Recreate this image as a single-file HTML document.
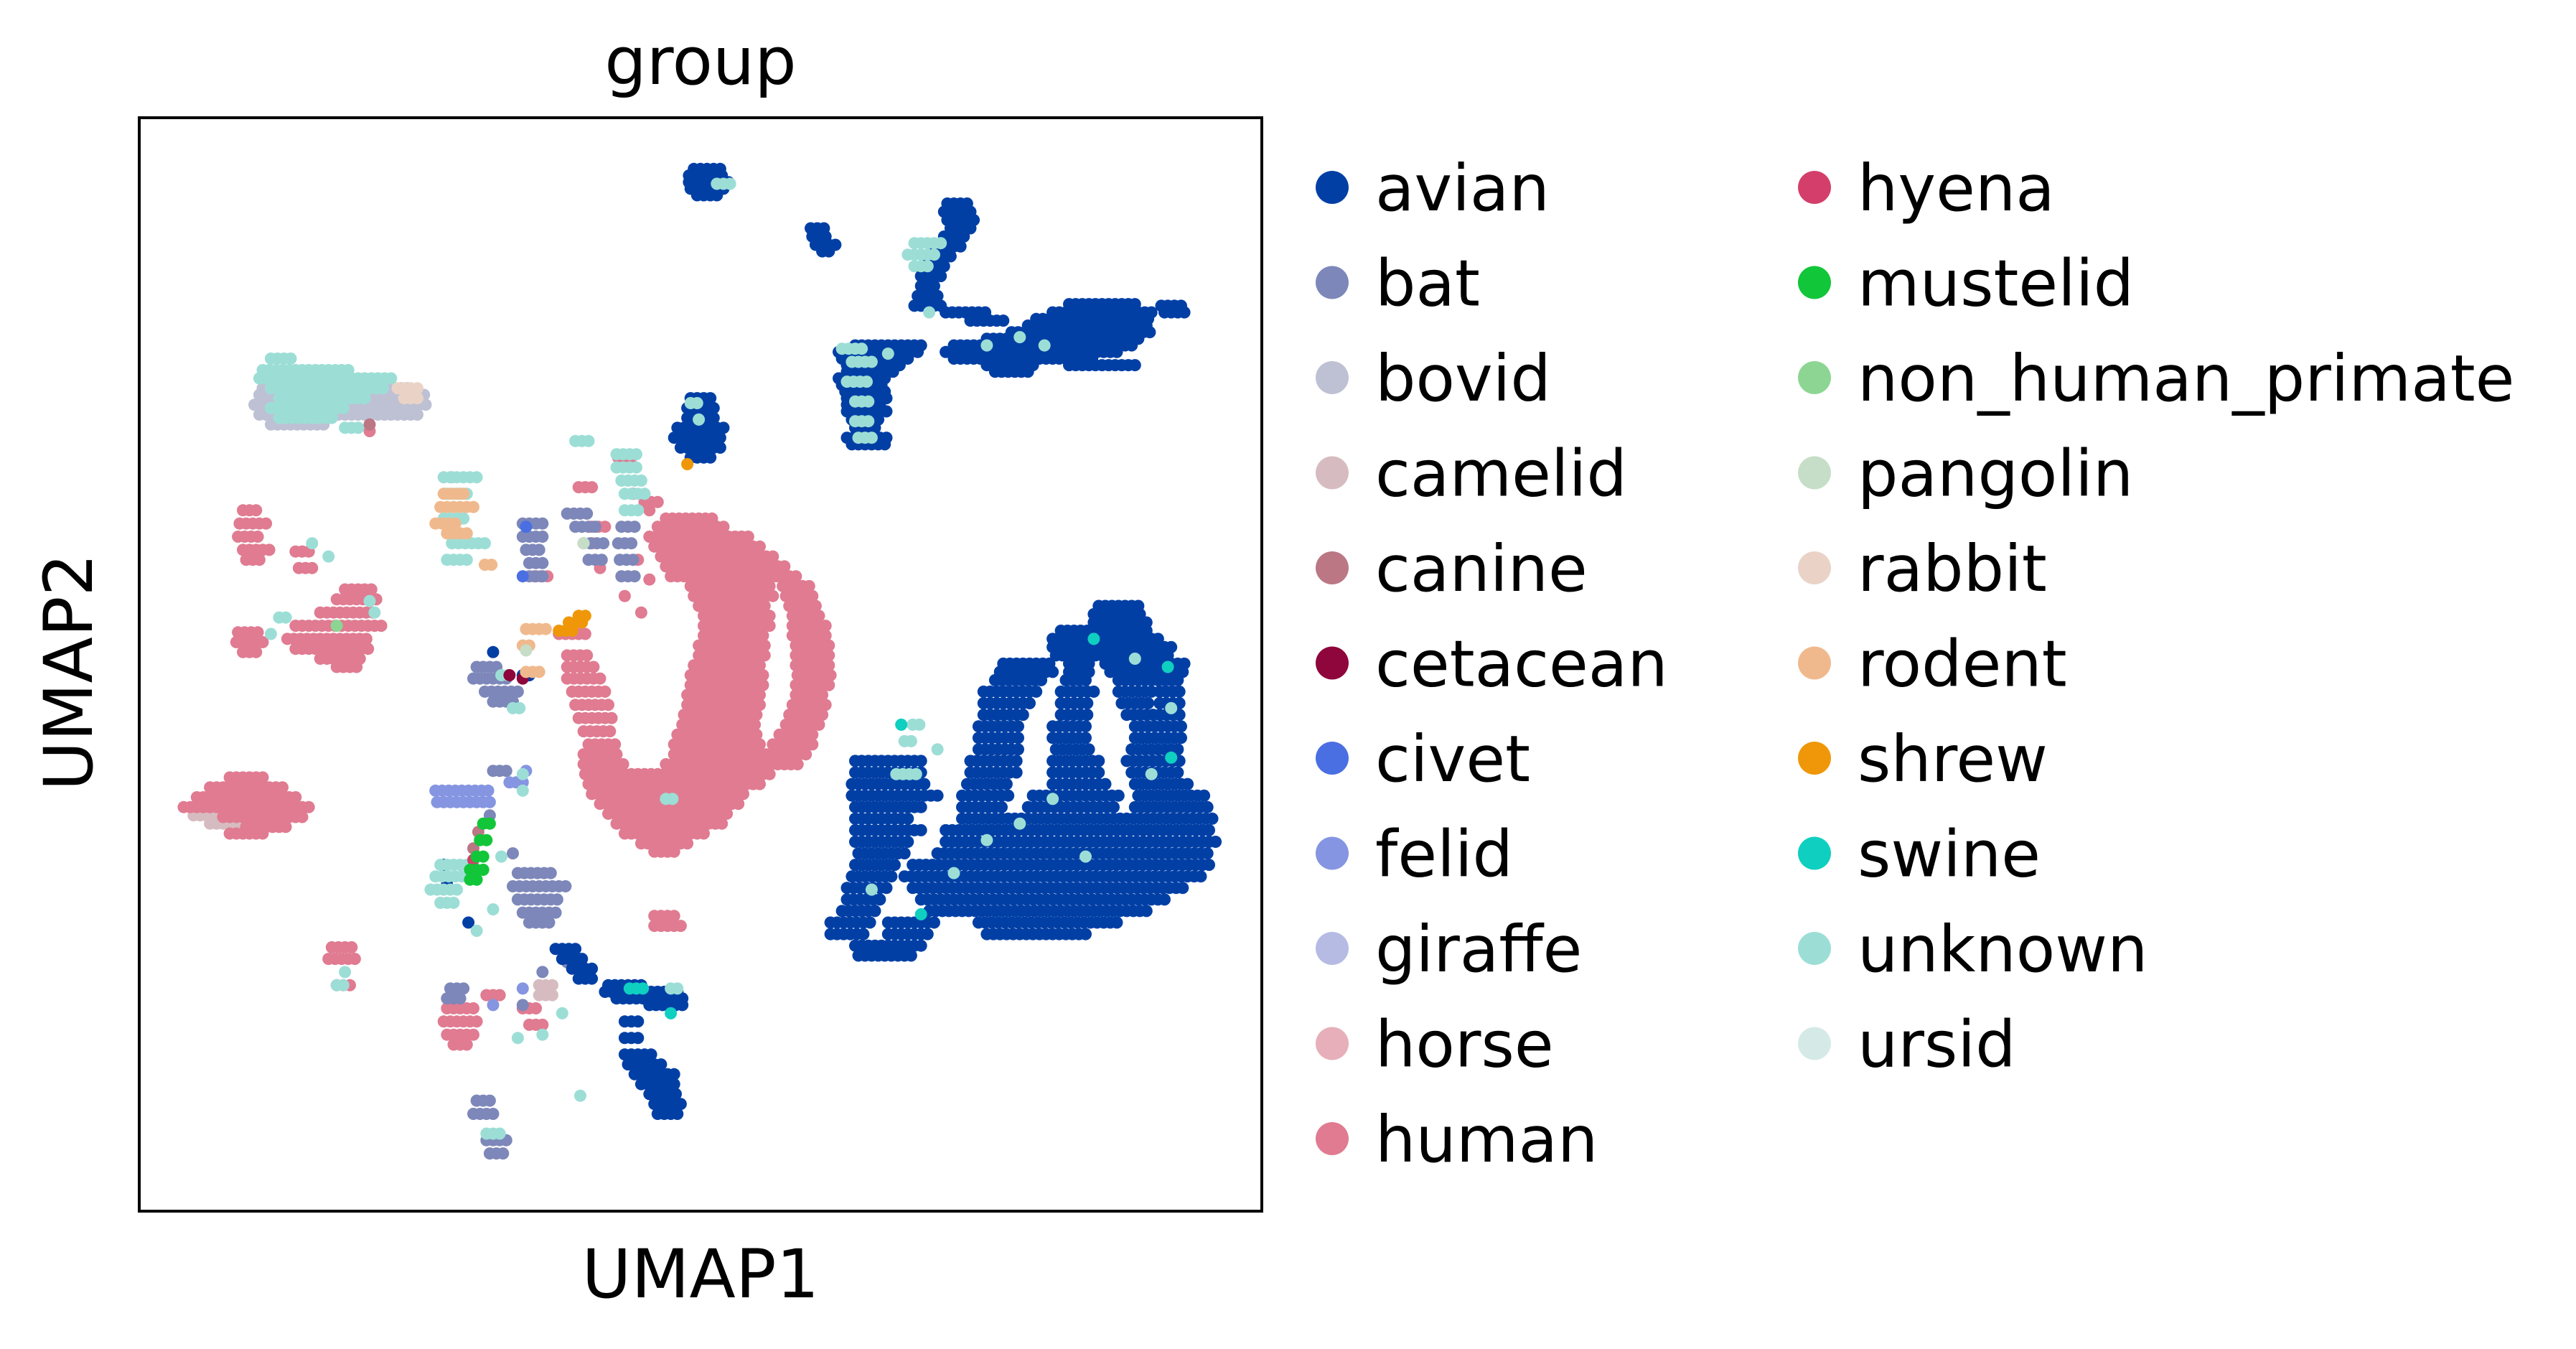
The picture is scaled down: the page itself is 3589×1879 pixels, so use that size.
<!DOCTYPE html>
<html><head><meta charset="utf-8"><style>
html,body{margin:0;padding:0;background:#fff;}
svg{display:block;font-family:"DejaVu Sans","Liberation Sans",sans-serif;}
</style></head><body>
<svg id="chart" width="3589" height="1879" viewBox="0 0 3589 1879" xmlns="http://www.w3.org/2000/svg">
<rect x="0" y="0" width="3589" height="1879" fill="#fff"/>
<text x="976" y="117" font-size="92" text-anchor="middle">group</text>
<g id="points"></g>
<rect x="194" y="164" width="1564" height="1523" fill="none" stroke="#000" stroke-width="4"/>
<text x="976" y="1807" font-size="94" text-anchor="middle">UMAP1</text>
<text x="0" y="0" font-size="94" text-anchor="middle" transform="translate(128,936) rotate(-90)">UMAP2</text>
<g id="legend"></g>
</svg>
<script>
// categories and colours
const categories = ["avian","bat","bovid","camelid","canine","cetacean","civet","felid","giraffe","horse","human","hyena","mustelid","non_human_primate","pangolin","rabbit","rodent","shrew","swine","unknown","ursid"];
const colors = ["#023fa5","#7d87b9","#bec1d4","#d6bcc0","#bb7784","#8e063b","#4a6fe3","#8595e1","#b5bbe3","#e6afb9","#e07b91","#d33f6a","#11c638","#8dd593","#c6dec7","#ead3c6","#f0b98d","#ef9708","#0fcfc0","#9cded6","#d5eae7"];
// data: strokes of cells [UMAP2, UMAP1 start, UMAP1 end]
const bovid = [[-236,160,250],[-240,158,260],[-246,155,262],[-252,158,255],[-258,165,200]];
const camelid = [[-490,160,170],[-495,118,135],[-500,128,150],[-598,328,338],[-604,328,336],[-290,275,275]];
const rabbit = [[-236,242,255],[-242,246,256]];
const human = [[-315,405,435],[-320,400,440],[-326,395,455],[-332,398,462],[-338,402,470],[-344,405,480],[-350,408,485],[-356,420,470],[-356,476,492],[-362,422,470],[-362,478,495],[-368,425,468],[-368,480,498],[-374,428,468],[-374,482,500],[-380,428,468],[-380,482,502],[-386,428,466],[-386,482,503],[-392,425,466],[-392,484,505],[-398,425,465],[-398,484,505],[-404,422,465],[-404,484,505],[-410,420,465],[-410,485,505],[-416,420,465],[-416,484,505],[-422,418,465],[-422,484,503],[-428,418,462],[-428,482,502],[-434,416,462],[-434,480,500],[-440,415,460],[-440,478,498],[-446,412,460],[-446,474,496],[-452,358,375],[-452,410,462],[-452,470,494],[-458,355,378],[-458,410,490],[-464,355,380],[-464,405,485],[-470,356,470],[-476,358,462],[-482,360,455],[-488,365,450],[-494,370,445],[-500,375,440],[-506,380,430],[-512,390,420],[-517,398,412],
[-398,345,360],[-405,345,362],[-412,345,365],[-420,348,368],[-428,350,370],[-436,352,372],[-444,355,372],
[-472,140,160],[-478,128,172],[-484,120,180],[-490,112,190],[-496,136,185],[-502,150,175],[-506,140,160],
[-310,148,158],[-318,146,162],[-326,145,160],[-334,148,165],[-340,150,160],[-335,180,190],[-345,182,190],
[-358,210,228],[-364,205,232],[-372,195,230],[-380,180,232],[-388,175,225],[-394,180,225],[-400,195,222],[-405,205,220],
[-384,145,158],[-390,144,160],[-396,148,156],
[-575,202,215],[-582,200,216],[-598,205,213],
[-612,272,290],[-620,270,292],[-628,272,290],[-634,276,286],[-604,296,304],
[-556,398,412],[-562,398,414],
[-350,325,335],[-296,352,362],[-278,376,384],[-305,392,402],[-330,360,360],[-345,365,365],[-385,340,356],[-300,385,385],[-310,395,395],[-340,388,388],[-352,395,395],[-362,380,380],[-372,390,390],[-320,360,368],[-262,225,225],[-612,318,328],[-622,322,330]];
const avian = [[-103,422,438],[-107,419,441],[-111,419,443],[-115,420,440],[-119,424,438],
[-139,493,502],[-144,494,505],[-149,496,508],[-153,500,507],
[-124,576,590],[-129,574,592],[-134,576,592],[-139,578,590],[-144,574,588],[-150,568,584],[-156,566,580],[-162,562,576],[-168,560,572],[-174,560,570],[-180,558,572],[-186,556,574],
[-190,575,600],[-195,590,610],[-190,640,700],[-185,650,690],[-194,630,700],[-198,625,698],[-202,615,700],[-206,600,695],[-210,520,560],[-210,580,690],[-214,510,560],[-214,575,680],[-218,512,555],[-218,580,665],[-222,515,550],[-222,600,630],[-222,650,690],[-226,515,545],[-226,605,625],[-230,510,540],[-234,512,538],[-238,514,540],[-242,515,540],[-246,515,538],[-250,515,540],[-255,518,535],[-260,520,535],[-266,515,540],[-270,518,538],[-186,706,718],[-190,708,720],
[-242,420,432],[-248,418,436],[-254,418,436],[-260,412,440],[-266,410,440],[-272,414,438],[-278,420,434],
[-368,668,692],[-373,665,695],[-378,665,700],[-383,645,700],[-388,640,705],[-393,640,715],[-398,642,712],[-403,610,640],[-403,650,665],[-403,672,720],[-408,608,640],[-408,650,665],[-408,675,720],[-413,605,635],[-413,648,662],[-413,680,718],[-420,598,630],[-420,645,665],[-420,680,700],[-420,705,720],[-427,598,628],[-427,645,662],[-427,682,700],[-427,705,720],[-434,598,625],[-434,645,662],[-434,685,720],[-441,595,620],[-441,640,660],[-441,690,720],[-448,595,620],[-448,640,660],[-448,690,720],[-455,595,620],[-455,642,665],[-455,688,718],[-462,520,560],[-462,590,620],[-462,640,670],[-462,685,718],[-469,520,560],[-469,590,618],[-469,640,670],[-469,688,718],[-476,518,565],[-476,588,615],[-476,640,675],[-476,690,725],[-483,518,570],[-483,585,615],[-483,628,680],[-483,692,732],[-490,520,560],[-490,585,612],[-490,625,680],[-490,690,735],[-497,520,555],[-497,585,738],[-504,520,560],[-504,575,738],[-511,520,555],[-511,575,740],[-518,522,550],[-518,570,735],[-525,520,545],[-525,555,735],[-532,518,545],[-532,550,730],[-539,515,540],[-539,555,720],[-546,515,538],[-546,560,710],[-553,512,535],[-553,565,700],[-560,505,530],[-560,540,570],[-560,595,680],[-567,505,528],[-567,540,565],[-567,600,660],[-574,520,560],[-580,522,555],
[-576,338,350],[-582,342,356],[-588,348,360],[-594,352,362],[-396,300,300],[-410,318,324],[-525,270,270],[-537,272,272],[-560,285,285],
[-598,370,392],[-602,368,415],[-606,375,418],[-610,395,415],[-620,380,388],[-630,380,390],[-640,380,396],[-646,382,405],[-652,386,410],[-658,390,412],[-664,395,412],[-670,398,414],[-676,400,412]];
const bat = [[-318,318,330],[-326,318,332],[-334,320,330],[-342,322,332],[-350,322,330],
[-312,345,360],[-320,350,365],[-330,355,368],[-340,358,368],
[-320,378,386],[-330,376,386],[-340,377,386],[-350,378,388],
[-405,290,305],[-412,288,310],[-420,295,315],[-426,300,312],
[-530,315,335],[-538,312,345],[-546,315,342],[-554,318,338],[-560,322,335],
[-600,274,282],[-606,272,280],[-590,330,330],[-610,318,318],[-584,345,345],
[-668,290,300],[-676,288,302],[-692,296,308],[-700,298,306],[-468,300,310],[-495,298,298],[-518,312,312]];
const felid = [[-480,265,300],[-487,266,298],[-475,310,320],[-468,320,320],[-610,300,300],[-600,318,318]];
const unknown = [[-218,165,180],[-225,160,215],[-230,158,240],[-236,165,235],[-242,170,225],[-248,165,210],[-254,170,205],[-260,210,220],
[-212,512,525],[-220,518,532],[-232,515,528],[-244,520,530],[-256,520,528],[-266,522,530],[-148,556,572],[-155,552,570],[-162,556,565],[-215,540,540],[-190,565,565],[-210,600,600],[-205,620,620],[-210,635,635],
[-290,270,290],[-300,272,285],[-315,270,285],[-330,275,295],[-340,272,285],
[-268,350,360],[-276,375,390],[-284,375,390],[-292,378,390],[-300,380,392],[-310,380,388],
[-375,170,175],[-385,165,165],[-330,190,190],[-338,200,200],[-365,225,228],[-372,228,228],
[-525,268,285],[-532,265,285],[-540,262,280],[-548,268,278],[-565,290,290],[-552,300,300],[-520,305,305],[-480,318,318],[-470,318,318],
[-598,205,210],[-590,210,210],[-688,296,306],[-665,353,353],[-628,330,330],[-630,315,318],[-615,342,345],
[-440,555,560],[-450,550,555],[-455,570,570],[-470,545,560],[-540,530,530],[-510,600,600],[-500,620,620],[-400,690,690],[-430,712,712],[-470,700,700],[-485,640,640],[-520,660,660],[-530,580,580],[-112,436,446],[-245,420,425],[-255,425,425],[-410,305,312],[-430,312,318],[-600,408,412],[-485,405,410]];
const canine = [[-505,291,291],[-515,288,288],[-258,225,225]];
const hyena = [[-522,288,288]];
const mustelid = [[-500,294,298],[-510,292,296],[-520,290,296],[-528,286,296],[-534,286,292]];
const cetacean = [[-410,310,310],[-412,318,318]];
const rodent = [[-300,270,282],[-308,268,290],[-318,265,280],[-324,272,285],[-343,295,300],[-382,320,332],[-392,318,325],[-408,320,328]];
const shrew = [[-374,352,356],[-378,346,354],[-383,340,350],[-282,418,418]];
const swine = [[-600,383,392],[-615,408,408],[-388,665,665],[-440,548,548],[-555,560,560],[-405,710,710],[-460,712,712]];
const civet = [[-320,320,320],[-350,318,318]];
const pangolin = [[-330,355,355],[-395,320,320]];
const nonHumanPrimate = [[-380,205,205]];
// draw order (later on top)
const drawOrder = [["bovid",bovid],["camelid",camelid],["rabbit",rabbit],["human",human],["bat",bat],["avian",avian],["felid",felid],["unknown",unknown],["canine",canine],["hyena",hyena],["mustelid",mustelid],["cetacean",cetacean],["rodent",rodent],["shrew",shrew],["swine",swine],["civet",civet],["pangolin",pangolin],["non_human_primate",nonHumanPrimate]];

function xScale(v){ return 194 + (v - 85) * 2.293; }
function yScale(v){ return 1687 - (v + 735) * 2.297; }
const NS = "http://www.w3.org/2000/svg";
const g = document.getElementById("points");
drawOrder.forEach(function(entry){
  const name = entry[0], strokes = entry[1];
  const col = colors[categories.indexOf(name)];
  strokes.forEach(function(s){
    const y = s[0], x0 = s[1], x1 = s[2];
    for (let x = x0; x <= x1 + 0.001; x += 4) {
      const c = document.createElementNS(NS, "circle");
      c.setAttribute("cx", xScale(x).toFixed(1));
      c.setAttribute("cy", yScale(y).toFixed(1));
      c.setAttribute("r", "8.5");
      c.setAttribute("fill", col);
      
      
      g.appendChild(c);
      if (x1 === x0) break;
    }
  });
});
// legend
const lg = document.getElementById("legend");
categories.forEach(function(name, i){
  const col = i < 11 ? 0 : 1;
  const row = i < 11 ? i : i - 11;
  const cy = 261 + row * 132.5;
  const mx = col === 0 ? 1856 : 2528;
  const item = document.createElementNS(NS, "g");
  
  
  const m = document.createElementNS(NS, "circle");
  m.setAttribute("cx", mx); m.setAttribute("cy", cy); m.setAttribute("r", "23");
  m.setAttribute("fill", colors[i]);
  
  
  const t = document.createElementNS(NS, "text");
  t.setAttribute("x", mx + 60); t.setAttribute("y", cy + 32);
  t.setAttribute("font-size", "89");
  t.textContent = name;
  
  
  item.appendChild(m); item.appendChild(t);
  lg.appendChild(item);
});
</script>
</body></html>
